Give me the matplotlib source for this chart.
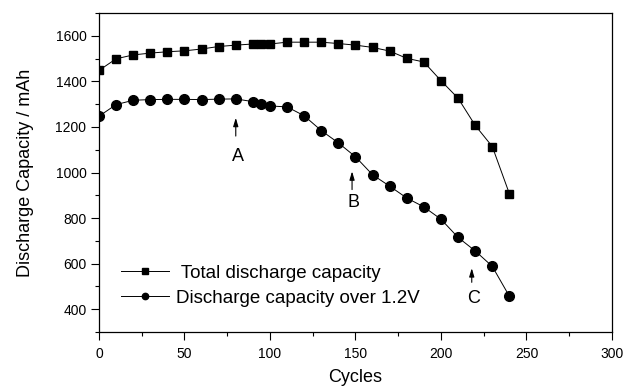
import matplotlib
matplotlib.use("Agg")
import matplotlib.pyplot as plt
from matplotlib.ticker import MultipleLocator

plt.rcParams['font.family'] = ['Liberation Sans', 'DejaVu Sans']

cycles = [0, 10, 20, 30, 40, 50, 60, 70, 80, 90, 95, 100, 110, 120, 130, 140,
          150, 160, 170, 180, 190, 200, 210, 220, 230, 240]
total_capacity = [1448, 1499, 1516, 1524, 1530, 1534, 1542, 1553, 1559, 1564, 1564, 1564,
                  1572, 1572, 1572, 1566, 1559, 1549, 1533, 1501, 1485, 1403, 1326, 1207,
                  1114, 907]
capacity_over_12 = [1247, 1298, 1317, 1320, 1321, 1321, 1320, 1322, 1323, 1311, 1302, 1292,
                    1288, 1249, 1184, 1130, 1069, 990, 940, 888, 849, 795, 715, 656, 588, 457]

series_labels = ['Total discharge capacity', 'Discharge capacity over 1.2V']

annot_labels = ['A', 'B', 'C']
annot_x = [80, 148, 218]
annot_tip = [1240, 1005, 580]
annot_tail = [1160, 925, 518]
annot_text_y = [1070, 868, 448]

fig = plt.figure(figsize=(6.26, 3.86), dpi=100)
ax = fig.add_axes([0.1581, 0.1399, 0.8195, 0.8264])

ax.plot(cycles, total_capacity, color='black', lw=0.7, marker='s', ms=6.3,
        mfc='black', mec='black', label=' ' + series_labels[0])
ax.plot(cycles, capacity_over_12, color='black', lw=0.7, marker='o', ms=7,
        mfc='black', mec='black', label=series_labels[1])

for lab, x, tip, tail, ty in zip(annot_labels, annot_x, annot_tip, annot_tail, annot_text_y):
    ax.annotate('', xy=(x, tip), xytext=(x, tail),
                arrowprops=dict(arrowstyle='-|>,head_length=0.5,head_width=0.15',
                                color='black', lw=0.8, shrinkA=0, shrinkB=0))
    ax.text(x + 1, ty, lab, ha='center', va='center', fontsize=13)

ax.set_xlim(0, 300)
ax.set_ylim(300, 1700)
ax.xaxis.set_major_locator(MultipleLocator(50))
ax.xaxis.set_minor_locator(MultipleLocator(25))
ax.yaxis.set_minor_locator(MultipleLocator(100))
ax.set_yticks([400, 600, 800, 1000, 1200, 1400, 1600])

ax.tick_params(which='major', direction='out', length=6, width=0.8, labelsize=10,
               top=False, right=False)
ax.tick_params(which='minor', direction='out', length=3, width=0.8, top=False, right=False)
ax.tick_params(axis='x', pad=5)
ax.tick_params(axis='y', pad=3)

for s in ax.spines.values():
    s.set_linewidth(0.9)

ax.set_xlabel('Cycles', fontsize=13, va='center')
ax.xaxis.set_label_coords(0.5, -0.142)
ax.set_ylabel('Discharge Capacity / mAh', fontsize=13, va='center')
ax.yaxis.set_label_coords(-0.144, 0.5)

leg = ax.legend(loc='lower left', bbox_to_anchor=(0.028, 0.055), frameon=False,
                fontsize=13.5, handlelength=2.56, handletextpad=0.37, labelspacing=0.42,
                markerscale=0.65, borderaxespad=0)

fig.savefig('out.png', dpi=100)
